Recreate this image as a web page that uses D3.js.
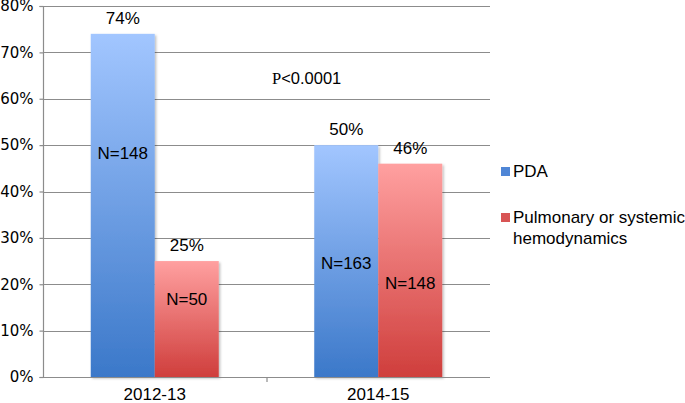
<!DOCTYPE html>
<html lang="en">
<head>
<meta charset="UTF-8">
<title>PDA vs hemodynamics</title>
<script src="https://d3js.org/d3.v7.min.js"></script>
<style>
  body { margin: 0; background: #fff; }
  svg text { font-family: "Liberation Sans", Arial, sans-serif; fill: #000; }
</style>
</head>
<body>
<div id="chart"></div>
<script>
var periods = ["2012-13", "2014-15"];
var seriesNames = ["PDA", "Pulmonary or systemic hemodynamics"];
var pdaValues = [74, 50];
var hemoValues = [25, 46];
var pdaCounts = ["N=148", "N=163"];
var hemoCounts = ["N=50", "N=148"];
// where the N= labels sit, in percent units
var pdaCountAt = [48.3, 24.6];
var hemoCountAt = [16.8, 20.3];
var yTicks = [0, 10, 20, 30, 40, 50, 60, 70, 80];
var pText = ["P", "<0.0001"];

var width = 685, height = 403;
var plotLeft = 43, plotRight = 490, plotTop = 6, plotBottom = 377;

var svg = d3.select("#chart").append("svg")
    .attr("width", width)
    .attr("height", height);

var defs = svg.append("defs");
function grad(id, c1, c2) {
    var g = defs.append("linearGradient").attr("id", id)
        .attr("x1", 0).attr("y1", 0).attr("x2", 0).attr("y2", 1);
    g.append("stop").attr("offset", "0%").attr("stop-color", c1);
    g.append("stop").attr("offset", "100%").attr("stop-color", c2);
}
grad("gBlue", "#a2c6ff", "#3b78c9");
grad("gRed", "#ffa0a0", "#cf3e3c");
var shadow = defs.append("filter").attr("id", "shadow")
    .attr("x", "-10%").attr("y", "-10%").attr("width", "130%").attr("height", "120%");
shadow.append("feDropShadow").attr("dx", 1.5).attr("dy", 1.5)
    .attr("stdDeviation", 1.2).attr("flood-color", "#000").attr("flood-opacity", 0.25);

var y = d3.scaleLinear().domain([0, 80]).range([plotBottom, plotTop]);
var x = d3.scaleBand().domain(periods).range([plotLeft, plotRight]);
var inner = d3.scaleBand().domain([0, 1]).range([0, 128]);

// gridlines
svg.append("g").selectAll("line")
    .data(yTicks.slice(1))
    .enter().append("line")
    .attr("x1", plotLeft).attr("x2", plotRight)
    .attr("y1", function(d) { return Math.round(y(d)) + 0.5; })
    .attr("y2", function(d) { return Math.round(y(d)) + 0.5; })
    .style("stroke", "#8c8c8c")
    .style("stroke-width", 1.2);

// y axis
var yAxis = svg.append("g")
    .attr("transform", "translate(" + (plotLeft + 0.5) + ",0)")
    .call(d3.axisLeft(y).tickValues(yTicks).tickSize(4).tickPadding(6)
        .tickFormat(function(d) { return d + "%"; }));
yAxis.selectAll("path, line").style("stroke", "#8c8c8c").style("stroke-width", 1.2);
yAxis.select(".domain").attr("d", "M-4," + (plotBottom + 0.5) + "H0V" + (plotTop + 0.5) + "H-4");
yAxis.selectAll("text")
    .style("font-family", "'DejaVu Sans', Verdana, sans-serif")
    .style("font-size", "15px")
    .attr("fill", "#000");

// bars
var pairs = periods.map(function(p, i) {
    return [
        {period: p, k: 0, v: pdaValues[i], n: pdaCounts[i], at: pdaCountAt[i]},
        {period: p, k: 1, v: hemoValues[i], n: hemoCounts[i], at: hemoCountAt[i]}
    ];
});
var groups = svg.selectAll("g.grp")
    .data(pairs)
    .enter().append("g")
    .attr("class", "grp")
    .attr("transform", function(d, i) {
        return "translate(" + (x(periods[i]) + (x.bandwidth() - 128) / 2) + ",0)";
    });

groups.selectAll("rect")
    .data(function(d) { return d; })
    .enter().append("rect")
    .attr("x", function(d) { return inner(d.k); })
    .attr("width", inner.bandwidth())
    .attr("y", function(d) { return y(d.v); })
    .attr("height", function(d) { return y(0) - y(d.v); })
    .attr("fill", function(d) { return d.k === 0 ? "url(#gBlue)" : "url(#gRed)"; })
    .attr("filter", "url(#shadow)");

groups.selectAll("text.val")
    .data(function(d) { return d; })
    .enter().append("text")
    .attr("class", "val")
    .attr("x", function(d) { return inner(d.k) + inner.bandwidth() / 2; })
    .attr("y", function(d) { return y(d.v) - 10; })
    .attr("text-anchor", "middle")
    .style("font-size", "17px")
    .text(function(d) { return d.v + "%"; });

groups.selectAll("text.n")
    .data(function(d) { return d; })
    .enter().append("text")
    .attr("class", "n")
    .attr("x", function(d) { return inner(d.k) + inner.bandwidth() / 2; })
    .attr("y", function(d) { return y(d.at) + 6; })
    .attr("text-anchor", "middle")
    .style("font-size", "17px")
    .text(function(d) { return d.n; });

// x axis
svg.append("line")
    .attr("x1", plotLeft).attr("x2", plotRight)
    .attr("y1", plotBottom + 0.5).attr("y2", plotBottom + 0.5)
    .style("stroke", "#8c8c8c").style("stroke-width", 1.2);
svg.append("line")
    .attr("x1", x(periods[1]) + 0.5).attr("x2", x(periods[1]) + 0.5)
    .attr("y1", plotBottom).attr("y2", plotBottom + 5)
    .style("stroke", "#8c8c8c").style("stroke-width", 1.2);
svg.selectAll("text.cat")
    .data(periods)
    .enter().append("text")
    .attr("class", "cat")
    .attr("x", function(d) { return x(d) + x.bandwidth() / 2; })
    .attr("y", 400)
    .attr("text-anchor", "middle")
    .style("font-size", "17px")
    .text(function(d) { return d; });

// p value
var pv = svg.append("text")
    .attr("x", 272).attr("y", 84)
    .style("font-size", "16.5px");
pv.append("tspan")
    .style("font-family", "'Liberation Serif', 'Times New Roman', serif")
    .text(pText[0]);
pv.append("tspan").text(pText[1]);

// legend
var legend = svg.append("g").attr("transform", "translate(501,0)");
var legendColors = ["#4f86d6", "#d85454"];
var legendY = [171, 217];
seriesNames.forEach(function(name, i) {
    legend.append("rect")
        .attr("x", 0).attr("y", legendY[i] - 4)
        .attr("width", 9).attr("height", 9)
        .attr("fill", legendColors[i]);
    var t = legend.append("text")
        .attr("x", 12).attr("y", legendY[i] + 6)
        .style("font-size", "17px");
    if (i === 0) {
        t.text(name);
    } else {
        t.append("tspan").attr("x", 12).text("Pulmonary or systemic");
        t.append("tspan").attr("x", 12).attr("dy", 21).text("hemodynamics");
    }
});
</script>
</body>
</html>
